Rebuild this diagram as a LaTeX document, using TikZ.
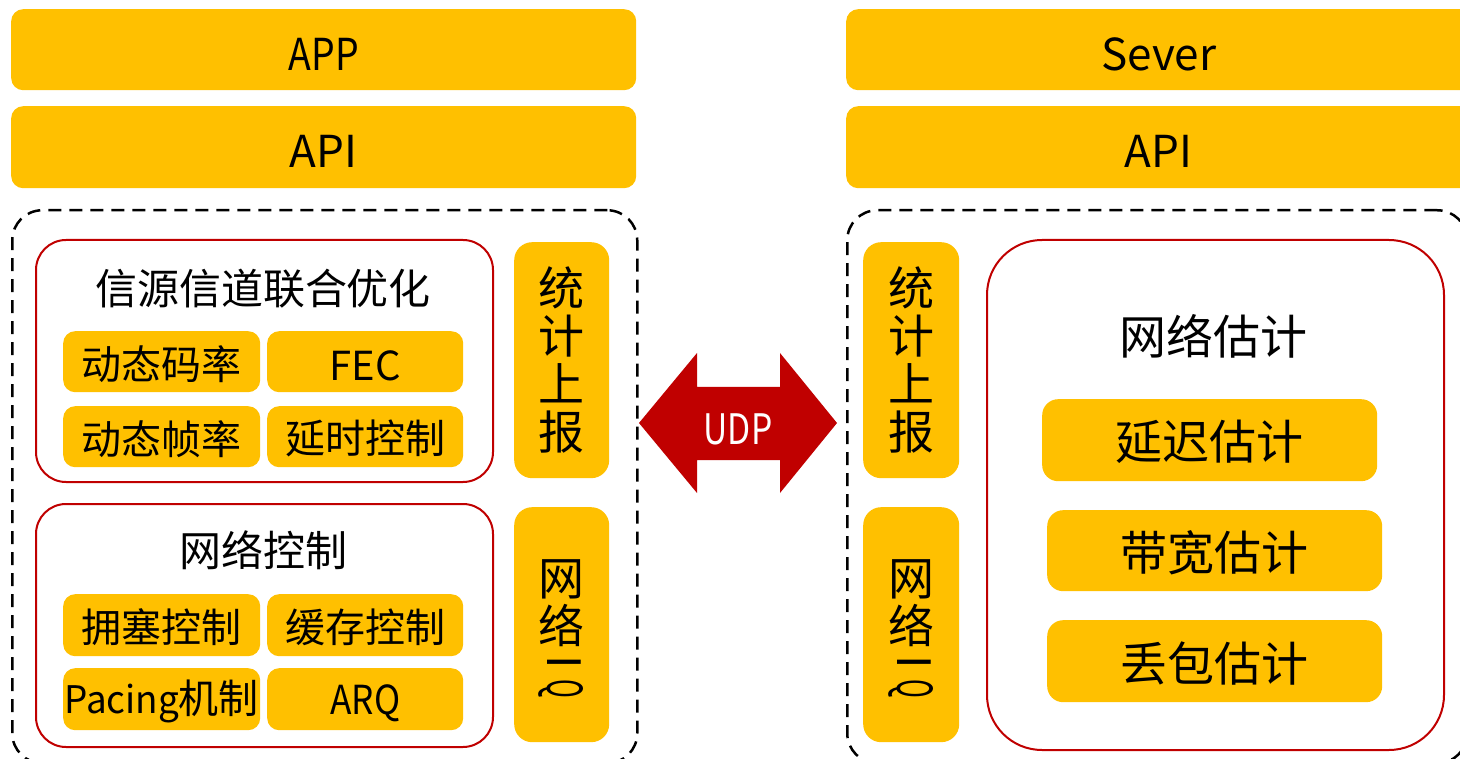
\documentclass[tikz,border=0pt]{standalone}
\usepackage{fontspec}
\setmainfont{Noto Sans CJK SC}
\definecolor{ygold}{HTML}{FFC000}
\definecolor{dred}{HTML}{C00000}
\newcommand\fsz[1]{\fontsize{#1}{#1}\selectfont}
\newcommand\latdn[1]{\raisebox{-4.5pt}[\height][\depth]{#1}}
\newcommand\cjkdn[1]{\raisebox{-2pt}[\height][\depth]{#1}}
\tikzset{
  ybox/.style={fill=ygold, draw=none, rounded corners=12pt, inner sep=0pt, anchor=north west, font=\fsz{40}},
  vbox/.style={fill=ygold, draw=none, rounded corners=18pt, inner sep=0pt, anchor=north west},
  vtxt/.style={inner sep=0pt, align=center, font=\fontsize{46}{48}\selectfont},
  redbox/.style={draw=dred, line width=2pt, fill=white, inner sep=0pt, anchor=north west},
  dashbox/.style={draw=black, line width=2.5pt, dash pattern=on 13pt off 8pt, rounded corners=30pt, inner sep=0pt, anchor=north west},
  ttl/.style={font=\fsz{42}, inner sep=0pt},
}
\begin{document}
\begin{tikzpicture}[x=1pt,y=-1pt]
\clip (0,0) rectangle (1460,759);
\fill[white] (0,0) rectangle (1460,759);
% ---------- left side ----------
\node[ybox, minimum width=625pt, minimum height=81pt, font=\fsz{44}] (app) at (11,9) {\latdn{\scalebox{0.85}[1]{APP}}};
\node[ybox, minimum width=625pt, minimum height=82pt, font=\fsz{44}] (apil) at (11,106) {\latdn{API}};
\node[dashbox, minimum width=625pt, minimum height=553pt] (dl) at (11,209) {};
\node[redbox, rounded corners=30pt, minimum width=457pt, minimum height=242pt] (r1) at (35,239) {};
\node[ttl] (t1) at (263,289) {信源信道联合优化};
\node[ybox, minimum width=197pt, minimum height=61pt] (b11) at (63,331) {\cjkdn{动态码率}};
\node[ybox, minimum width=196pt, minimum height=61pt] (b12) at (267,331) {\latdn{FEC}};
\node[ybox, minimum width=197pt, minimum height=61pt] (b13) at (63,406) {\cjkdn{动态帧率}};
\node[ybox, minimum width=196pt, minimum height=61pt] (b14) at (267,406) {\cjkdn{延时控制}};
\node[redbox, rounded corners=30pt, minimum width=457pt, minimum height=243pt] (r2) at (35,503) {};
\node[ttl] (t2) at (263,550) {网络控制};
\node[ybox, minimum width=197pt, minimum height=62pt] (b21) at (63,594) {\cjkdn{拥塞控制}};
\node[ybox, minimum width=196pt, minimum height=62pt] (b22) at (267,594) {\cjkdn{缓存控制}};
\node[ybox, minimum width=197pt, minimum height=62pt] (b23) at (63,668) {\cjkdn{\fsz{38}\scalebox{0.97}[1]{Pacing}\fsz{40}机制}};
\node[ybox, minimum width=196pt, minimum height=62pt] (b24) at (267,668) {\latdn{\scalebox{0.88}[1]{ARQ}}};
\node[vbox, minimum width=95pt, minimum height=236pt] (sl) at (514,242) {};
\node[vtxt] (slt) at (561.5,360) {统\\计\\上\\报};
\node[vbox, minimum width=95pt, minimum height=235pt] (nl) at (514,507) {};
\node[vtxt] (nlt) at (561.5,603) {网\\络};
\node[inner sep=0pt, font=\fsz{46}] (nlq) at (561.5,677) {\rotatebox{-90}{I\hspace{10pt}\scalebox{0.55}[1.05]{Q}}};
% ---------- arrow ----------
\fill[dred] (639,423) -- (697,353) -- (697,387) -- (780,387) -- (780,353) -- (837,423)
  -- (780,493) -- (780,460) -- (697,460) -- (697,493) -- cycle;
\node[text=white, font=\fsz{42}, inner sep=0pt] (udp) at (738,429) {\scalebox{0.8}[1]{UDP}};
% ---------- right side ----------
\node[ybox, minimum width=640pt, minimum height=81pt, font=\fsz{44}] (sev) at (846,9) {\hspace*{-15pt}\latdn{Sever}};
\node[ybox, minimum width=640pt, minimum height=82pt, font=\fsz{44}] (apir) at (846,106) {\hspace*{-15pt}\latdn{API}};
\node[dashbox, minimum width=620pt, minimum height=553pt] (dr) at (846,209) {};
\node[vbox, minimum width=96pt, minimum height=236pt] (sr) at (863,242) {};
\node[vtxt] (srt) at (911,360) {统\\计\\上\\报};
\node[vbox, minimum width=96pt, minimum height=235pt] (nr) at (863,507) {};
\node[vtxt] (nrt) at (911,603) {网\\络};
\node[inner sep=0pt, font=\fsz{46}] (nrq) at (911,677) {\rotatebox{-90}{I\hspace{10pt}\scalebox{0.55}[1.05]{Q}}};
\node[redbox, rounded corners=55pt, minimum width=457pt, minimum height=510pt] (r3) at (986,239) {};
\node[ttl, font=\fsz{47}] (t3) at (1213,336) {网络估计};
\node[ybox, rounded corners=16pt, minimum width=335pt, minimum height=82pt, font=\fsz{47}] (e1) at (1042,399) {\cjkdn{延迟估计}};
\node[ybox, rounded corners=16pt, minimum width=335pt, minimum height=81pt, font=\fsz{47}] (e2) at (1047,510) {\cjkdn{带宽估计}};
\node[ybox, rounded corners=16pt, minimum width=335pt, minimum height=82pt, font=\fsz{47}] (e3) at (1047,620) {\cjkdn{丢包估计}};
\end{tikzpicture}
\end{document}
